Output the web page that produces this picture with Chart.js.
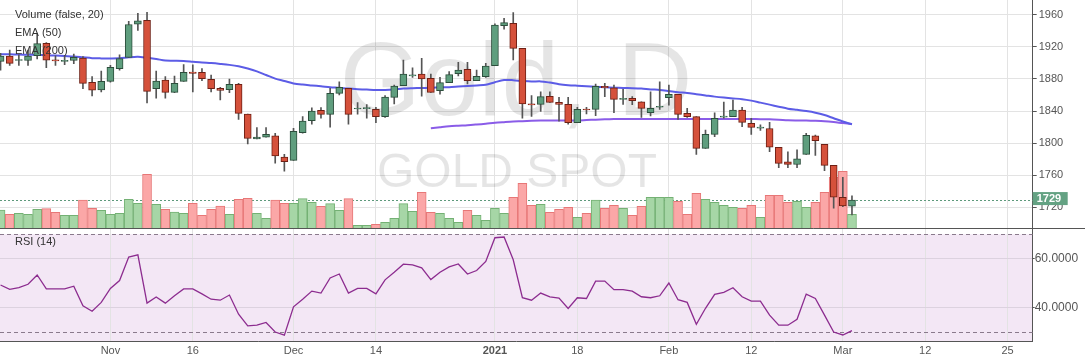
<!DOCTYPE html>
<html>
<head>
<meta charset="utf-8">
<script src="https://cdn.jsdelivr.net/npm/chart.js@4"></script>
<style>
html, body { margin: 0; padding: 0; background: #fff; overflow: hidden; }
canvas { display: block; }
</style>
</head>
<body>
<canvas id="chart" width="1085" height="363"></canvas>
<script>
// daily candles, index 0 = first visible bar
const opens = [1902, 1908.5, 1903, 1903, 1909, 1924.5, 1903.5, 1902, 1903, 1906,
    1875.8, 1866.5, 1877, 1893, 1907, 1948.5, 1953, 1868, 1878.7, 1863.3,
    1877, 1888.7, 1888.3, 1879.5, 1868.3, 1866.6, 1873.3, 1836.3, 1805.2, 1807.3,
    1809, 1782.7, 1778.5, 1813, 1828, 1840.9, 1835.9, 1862.1, 1868.3, 1842.6,
    1843, 1842.1, 1833, 1857, 1871.6, 1883.8, 1886.2, 1880.7, 1865.4, 1875.4,
    1886.6, 1892, 1877.9, 1882.9, 1896.6, 1946.5, 1949.4, 1918.2, 1848.6, 1848.3,
    1858.3, 1850.8, 1848.3, 1825.4, 1842.1, 1842.1, 1870.8, 1869.1, 1854.6, 1855.8,
    1851.6, 1837.9, 1844.7, 1856.6, 1860.8, 1837.1, 1833, 1793.5, 1810.9, 1832.5,
    1833, 1841.3, 1824.6, 1818.8, 1818.3, 1794.7, 1776.7, 1773.4, 1785.9, 1809,
    1798.5, 1772.3, 1732.5, 1721.4];
const highs = [1912, 1916, 1910, 1916, 1937, 1925.5, 1909, 1909, 1911, 1908,
    1883, 1890, 1897, 1910, 1952, 1962, 1963, 1890, 1883, 1883.5,
    1898, 1897.5, 1893, 1885, 1869.5, 1880, 1874.6, 1836.3, 1819.4, 1819.4,
    1812.3, 1786, 1818.5, 1833, 1844, 1844.2, 1868.3, 1876.6, 1868.3, 1850.5,
    1848, 1844.6, 1859.2, 1872.5, 1903.7, 1894, 1905.7, 1886.2, 1882, 1889.1,
    1900.7, 1900.7, 1891.2, 1899.5, 1948.7, 1955.6, 1962.7, 1918.2, 1859.2, 1864.1,
    1864.1, 1857, 1857, 1844.6, 1844.6, 1873.7, 1874.6, 1872.5, 1867, 1858,
    1851.6, 1864.1, 1876.6, 1872.5, 1860.8, 1843.3, 1833, 1816.3, 1837.9, 1851.2,
    1853.7, 1844.6, 1830.8, 1822.9, 1825.8, 1794.7, 1789.3, 1791.8, 1812.3, 1810,
    1798.5, 1772.3, 1757.4, 1734.2];
const lows = [1891, 1897, 1897, 1897, 1905, 1894, 1897, 1898, 1899, 1868,
    1859, 1864, 1876, 1891, 1907, 1940.5, 1850, 1856, 1856, 1863,
    1877, 1864, 1878, 1864, 1854, 1862.8, 1829.6, 1799, 1805.2, 1807.3,
    1775, 1765, 1778.5, 1812.4, 1823.8, 1831, 1820, 1860, 1823.8, 1836,
    1831, 1825.5, 1832, 1849, 1871.6, 1882, 1858.7, 1863.3, 1861.2, 1875.4,
    1883.7, 1873.7, 1877.9, 1882, 1896.6, 1942, 1903.7, 1831, 1833.3, 1839.5,
    1850.8, 1827.3, 1823.8, 1825.4, 1836.3, 1834.2, 1857.9, 1837.9, 1848.3, 1847.9,
    1832.1, 1833.8, 1842.1, 1847.5, 1829.6, 1832.1, 1786, 1793.5, 1808, 1831.2,
    1833, 1820.5, 1810.9, 1815.8, 1789.3, 1769.4, 1769.4, 1769.4, 1785.9, 1784.6,
    1765.6, 1718.9, 1720.8, 1710.5];
const closes = [1908.5, 1899.5, 1904.2, 1908.5, 1924, 1903.5, 1902.5, 1902.8, 1907, 1874.5,
    1866.2, 1877, 1894.5, 1905.3, 1948, 1952.5, 1864.5, 1877.3, 1863.3, 1874.5,
    1888.3, 1887, 1880.3, 1867.9, 1865.8, 1873.3, 1837.1, 1806, 1807.7, 1811,
    1784, 1776.9, 1814.7, 1827.6, 1840, 1835.9, 1862.1, 1869.6, 1835.9, 1843.3,
    1843.5, 1833, 1857.5, 1871.2, 1886.2, 1884.4, 1880, 1863.3, 1875.4, 1885.4,
    1891.2, 1877.9, 1883.3, 1896.2, 1947.3, 1950.2, 1918.2, 1849, 1847.8, 1858,
    1850.8, 1848.3, 1825.4, 1842.1, 1841.3, 1870.8, 1869.1, 1854.6, 1855.2, 1852.9,
    1843.3, 1843.3, 1845.7, 1860.8, 1835.9, 1833, 1793.5, 1810.9, 1830.8, 1833.3,
    1841.3, 1825.9, 1819.6, 1819.3, 1795.1, 1774.8, 1773.4, 1780.5, 1809.6, 1803.2,
    1772.3, 1732.5, 1721.6, 1729];
const volume = [55, 42, 45, 42, 57, 59, 48, 39, 39, 85,
    60, 54, 42, 45, 87, 75, 162, 72, 57, 49,
    45, 75, 39, 57, 67, 42, 87, 90, 45, 30,
    85, 75, 75, 89, 78, 66, 74, 54, 89, 9,
    9, 12, 18, 30, 74, 51, 108, 48, 45, 30,
    18, 54, 39, 24, 60, 45, 93, 135, 69, 72,
    48, 57, 63, 33, 45, 85, 60, 69, 60, 39,
    66, 93, 93, 93, 81, 42, 105, 87, 78, 69,
    63, 60, 69, 33, 99, 99, 78, 81, 63, 78,
    108, 153, 171, 42];
const ema50 = [1911, 1910.8, 1910.5, 1910.2, 1910, 1909.6, 1909.2, 1908.6, 1908, 1907,
    1906, 1905.7, 1905.6, 1905.8, 1907, 1907.8, 1906.5, 1905, 1903, 1902.8,
    1902.5, 1901.5, 1900.5, 1899.8, 1898.8, 1897.6, 1895.8, 1893, 1889.5, 1885,
    1880.5, 1877.5, 1874.5, 1873, 1872, 1871, 1869.8, 1869, 1868, 1867.3,
    1866.8, 1866.3, 1866.2, 1866.8, 1868, 1868.5, 1868.8, 1869, 1869.5, 1869.8,
    1870.5, 1871.2, 1872, 1872.8, 1876, 1878.7, 1878.5, 1877.5, 1876.8, 1877,
    1875.5, 1873.5, 1872.3, 1871.6, 1871, 1870.2, 1869.6, 1869.2, 1868.8, 1868.5,
    1868, 1867, 1866.4, 1865, 1863.5, 1862.5, 1861, 1859.5, 1858, 1856.8,
    1855.8, 1854.8, 1853, 1850.5, 1848, 1845.5, 1843, 1841.5, 1840, 1838,
    1835, 1831, 1827, 1823.5];
const ema200Start = 47;
const ema200 = [1818.5, 1819.8, 1821, 1821.7, 1822.3, 1823.2, 1824.2, 1825.4, 1826.2, 1826.9,
    1827.3, 1827.8, 1828.1, 1828.1, 1828.1, 1828.1, 1828.3, 1828.8, 1829.3, 1829.7,
    1830, 1830.2, 1830.2, 1830.2, 1830.2, 1830.2, 1830.2, 1830.2, 1830.2, 1830.2,
    1830.2, 1830.2, 1830.2, 1830.2, 1830.1, 1830, 1829.9, 1829.8, 1829.3, 1828.6,
    1828.3, 1828.1, 1827.8, 1827.3, 1826.3, 1825, 1823.8];
const rsi = [49.3, 47.5, 48.2, 49.6, 53.4, 47.7, 47.7, 47.7, 48.8, 40.8,
    38.6, 42.2, 47.9, 51.1, 60.7, 61.6, 41.9, 44.4, 41.9, 44.9,
    47.7, 47.7, 45.7, 43.5, 43.1, 45.2, 37.4, 32.6, 32.9, 34.0,
    30.1, 28.8, 40.4, 43.5, 46.8, 46.0, 52.2, 53.8, 46.0, 47.9,
    47.9, 45.7, 51.4, 54.5, 57.8, 57.5, 56.3, 51.5, 54.5, 56.7,
    57.9, 53.8, 55.2, 58.9, 68.6, 68.9, 59.6, 44.1, 43.1, 46.0,
    44.5, 44.0, 39.7, 44.1, 43.8, 50.9, 50.9, 47.4, 47.4, 46.8,
    44.5, 44.1, 44.9, 50.1, 43.3, 42.2, 33.3, 39.8, 45.5, 46.3,
    48.2, 44.5, 42.7, 42.7, 37.0, 32.9, 32.9, 35.3, 45.6, 43.8,
    37.0, 30.1, 28.9, 30.7];

const tickIdx = [12, 21, 32, 41, 54, 63, 73, 82, 92, 101, 110];
const tickLabels = ['Nov', '16', 'Dec', '14', '2021', '18', 'Feb', '12', 'Mar', '12', '25'];
const priceTicks = [1720, 1760, 1800, 1840, 1880, 1920, 1960];
const rsiTicks = [40, 60];
const rsiBands = [30, 70];
const lastPrice = 1729;
const legendLines = ['Volume (false, 20)', 'EMA (50)', 'EMA (200)'];

const FONT = '"Liberation Sans", Arial, sans-serif';
const idx = opens.map((v, i) => i);
const isUp = (i) => closes[i] >= opens[i];

// no label overhang padding, the panes go edge to edge
function noPad(s) {
    s.paddingTop = 0;
    s.paddingBottom = 0;
    s.paddingLeft = 0;
    s.paddingRight = 0;
}

// draws watermark, rsi band, last price line and the text overlays
const overlay = {
    id: 'overlay',
    beforeDraw(chart) {
        const ctx = chart.ctx;
        const area = chart.chartArea;
        const r = chart.scales.yRsi;
        ctx.save();
        ctx.fillStyle = '#fff';
        ctx.fillRect(0, 0, chart.width, chart.height);
        ctx.fillStyle = '#f3e7f5';
        const top = r.getPixelForValue(rsiBands[1]);
        ctx.fillRect(area.left, top, area.right - area.left, r.bottom - top);
        ctx.restore();
    },
    beforeDatasetsDraw(chart) {
        const ctx = chart.ctx;
        const area = chart.chartArea;
        const p = chart.scales.y;
        const r = chart.scales.yRsi;
        ctx.save();
        // watermark
        ctx.fillStyle = 'rgba(0,0,0,0.1)';
        ctx.textAlign = 'center';
        ctx.textBaseline = 'alphabetic';
        ctx.font = '104px ' + FONT;
        ctx.fillText('Gold, D', 516, 115);
        ctx.font = '48px ' + FONT;
        ctx.fillText('GOLD SPOT', 517, 187);
        // rsi bands
        ctx.strokeStyle = '#8a7a8c';
        ctx.lineWidth = 1;
        ctx.setLineDash([4, 3]);
        rsiBands.forEach(function (b) {
            const y = Math.round(r.getPixelForValue(b)) + 0.5;
            ctx.beginPath();
            ctx.moveTo(area.left, y);
            ctx.lineTo(area.right, y);
            ctx.stroke();
        });
        // last price
        ctx.strokeStyle = '#5e9a7c';
        ctx.setLineDash([2, 2]);
        const ly = Math.round(p.getPixelForValue(lastPrice)) + 0.5;
        ctx.beginPath();
        ctx.moveTo(area.left, ly);
        ctx.lineTo(area.right, ly);
        ctx.stroke();
        ctx.restore();
    },
    afterDraw(chart) {
        const ctx = chart.ctx;
        const p = chart.scales.y;
        const area = chart.chartArea;
        ctx.save();
        // pane separator
        ctx.strokeStyle = '#555';
        ctx.lineWidth = 1;
        const sy = Math.round(p.bottom) + 0.5;
        ctx.beginPath();
        ctx.moveTo(0, sy);
        ctx.lineTo(chart.width, sy);
        ctx.stroke();
        // legend texts
        ctx.fillStyle = '#333';
        ctx.font = '11px ' + FONT;
        ctx.textAlign = 'left';
        ctx.textBaseline = 'middle';
        legendLines.forEach(function (t, i) {
            ctx.fillText(t, 15, 14.5 + i * 18);
        });
        ctx.fillText('RSI (14)', 15, 242);
        // last price label
        const ly = p.getPixelForValue(lastPrice);
        ctx.fillStyle = '#64a283';
        ctx.fillRect(area.right, ly - 8, 35, 13);
        ctx.fillStyle = '#fff';
        ctx.font = 'bold 11px ' + FONT;
        ctx.fillText(String(lastPrice), area.right + 4, ly - 1.5);
        ctx.restore();
    }
};

new Chart(document.getElementById('chart'), {
    type: 'bar',
    data: {
        datasets: [
            {
                type: 'bar',
                data: idx.map(i => ({ x: i, y: volume[i] })),
                yAxisID: 'yVol',
                barThickness: 9,
                grouped: false,
                backgroundColor: idx.map(i => isUp(i) ? '#a6d6a6' : '#fba7a7'),
                borderColor: idx.map(i => isUp(i) ? '#74b174' : '#e77777'),
                borderWidth: 1,
                order: 6,
            },
            {
                type: 'line',
                data: ema200.map((v, i) => ({ x: i + ema200Start, y: v })),
                yAxisID: 'y',
                borderColor: '#8a5ce8',
                borderWidth: 2,
                pointRadius: 0,
                tension: 0.3,
                order: 5,
            },
            {
                type: 'line',
                data: idx.map(i => ({ x: i, y: ema50[i] })),
                yAxisID: 'y',
                borderColor: '#5c5ce6',
                borderWidth: 2,
                pointRadius: 0,
                tension: 0.3,
                order: 4,
            },
            {
                type: 'bar',
                data: idx.map(i => ({ x: i, y: [lows[i], highs[i]] })),
                yAxisID: 'y',
                barThickness: 1,
                grouped: false,
                backgroundColor: '#555',
                borderWidth: 0,
                order: 3,
            },
            {
                type: 'bar',
                data: idx.map(i => ({ x: i, y: [opens[i], closes[i]] })),
                yAxisID: 'y',
                barThickness: 7,
                grouped: false,
                minBarLength: 1,
                backgroundColor: idx.map(i => isUp(i) ? '#5f9e7e' : '#d5513b'),
                borderColor: idx.map(i => isUp(i) ? '#2c4e3c' : '#6e2015'),
                borderWidth: 1,
                borderSkipped: false,
                order: 2,
            },
            {
                type: 'line',
                data: idx.map(i => ({ x: i, y: rsi[i] })),
                yAxisID: 'yRsi',
                borderColor: '#8c2c8f',
                borderWidth: 1.3,
                pointRadius: 0,
                tension: 0,
                order: 1,
            },
        ],
    },
    options: {
        responsive: false,
        animation: false,
        events: [],
        devicePixelRatio: 1,
        layout: { padding: 0 },
        plugins: { legend: { display: false }, tooltip: { enabled: false } },
        scales: {
            x: {
                type: 'linear',
                min: -0.06,
                max: 112.74,
                offset: false,
                afterBuildTicks: s => { s.ticks = tickIdx.map(v => ({ value: v })); },
                afterFit: s => { s.height = 21.3; noPad(s); },
                grid: { color: '#e3e3e3', drawTicks: false, offset: false },
                border: { color: '#555' },
                ticks: {
                    padding: 3,
                    color: '#555',
                    maxRotation: 0,
                    autoSkip: false,
                    font: ctx => ({
                        family: FONT,
                        size: 11,
                        weight: ctx.tick && ctx.tick.value === 54 ? 'bold' : 'normal',
                    }),
                    callback: v => tickLabels[tickIdx.indexOf(v)],
                },
            },
            y: {
                type: 'linear',
                position: 'right',
                stack: 'pane',
                stackWeight: 228.3,
                min: 1693.8,
                max: 1978.5,
                afterBuildTicks: s => { s.ticks = priceTicks.map(v => ({ value: v })); },
                afterFit: s => { s.width = 52.3; noPad(s); },
                grid: { color: '#e3e3e3', tickLength: 4, tickColor: '#555' },
                border: { color: '#555' },
                ticks: { padding: 2, color: '#555', font: { family: FONT, size: 11 }, callback: v => String(v) },
            },
            yRsi: {
                type: 'linear',
                position: 'right',
                stack: 'pane',
                stackWeight: 113.4,
                min: 26.16,
                max: 72.45,
                afterBuildTicks: s => { s.ticks = rsiTicks.map(v => ({ value: v })); },
                afterFit: s => { s.width = 52.3; noPad(s); },
                grid: { color: '#dcd2df', tickLength: 2, tickColor: '#555' },
                border: { color: '#555' },
                ticks: { padding: 0, color: '#555', font: { family: FONT, size: 12 }, callback: v => v.toFixed(4) },
            },
            yVol: {
                type: 'linear',
                display: false,
                min: -340,
                max: 685,
            },
        },
    },
    plugins: [overlay],
});
</script>
</body>
</html>
